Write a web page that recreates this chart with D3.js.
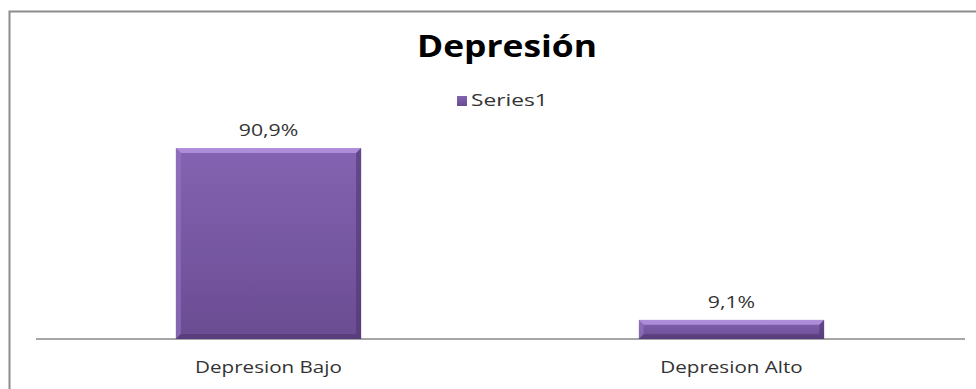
<!DOCTYPE html>
<html><head><meta charset="utf-8">
<script src="https://cdn.jsdelivr.net/npm/d3@7"></script>
<style>html,body{margin:0;padding:0;background:#fff;}svg{display:block;}</style>
</head><body>
<svg id="chart" width="976" height="389"></svg>
<script>
const title = "Depresión";
const seriesName = "Series1";
const categories = ["Depresion Bajo", "Depresion Alto"];
const values = [90.9, 9.1];
const valueLabels = ["90,9%", "9,1%"];

const svg = d3.select("#chart");
const font = "'Open Sans', 'DejaVu Sans', sans-serif";
const SX = 1.33; // horizontal stretch seen in the reference text

function stretchedText(parent, x, y, txt, opts) {
  const g = parent.append("g").attr("transform", `translate(${x},${y}) scale(${opts.sx || SX},1)`);
  return g.append("text").attr("x", 0).attr("y", 0)
    .attr("text-anchor", opts.anchor || "middle")
    .attr("font-family", font).attr("font-size", opts.size || 15.5)
    .attr("font-weight", opts.weight || "normal")
    .attr("fill", opts.fill || "#333").text(txt);
}

// outer border (left and top visible)
svg.append("path").attr("d", "M9.5,389 L9.5,11.5 L976,11.5")
  .attr("fill", "none").attr("stroke", "#8c8c8c").attr("stroke-width", 2);

const defs = svg.append("defs");
const g1 = defs.append("linearGradient").attr("id", "barGrad").attr("x1", 0).attr("y1", 0).attr("x2", 0).attr("y2", 1);
g1.append("stop").attr("offset", "0%").attr("stop-color", "#8463b2");
g1.append("stop").attr("offset", "100%").attr("stop-color", "#6a4c92");

const x = d3.scaleBand().domain(categories).range([37, 963]).paddingInner(0.6).paddingOuter(0.3);
const y = d3.scaleLinear().domain([0, 100]).range([339, 129]);

// axis
const xAxis = d3.axisBottom(x).tickSize(0).tickFormat("");
const ax = svg.append("g").attr("transform", "translate(0,339)").call(xAxis);
ax.select(".domain").attr("stroke", "#a6a6a6").attr("stroke-width", 2).attr("d", "M36,0H965");
categories.forEach(c => {
  stretchedText(svg, x(c) + x.bandwidth() / 2, 373, c, {size: 15.5});
});

// bars
const bars = svg.append("g").selectAll("g").data(values).join("g");
bars.each(function(d, i) {
  const gg = d3.select(this);
  const bx = x(categories[i]), bw = x.bandwidth();
  const by = y(d), bh = y(0) - y(d);
  const b = Math.min(5, bh / 4);
  gg.append("rect").attr("x", bx).attr("y", by).attr("width", bw).attr("height", bh).attr("fill", "url(#barGrad)");
  gg.append("path").attr("d", `M${bx},${by}L${bx+bw},${by}L${bx+bw-b},${by+b}L${bx+b},${by+b}Z`).attr("fill", "#b595e0").attr("opacity", 0.85);
  gg.append("path").attr("d", `M${bx},${by}L${bx+b},${by+b}L${bx+b},${by+bh-b}L${bx},${by+bh}Z`).attr("fill", "#9677c4").attr("opacity", 0.6);
  gg.append("path").attr("d", `M${bx+bw},${by}L${bx+bw},${by+bh}L${bx+bw-b},${by+bh-b}L${bx+bw-b},${by+b}Z`).attr("fill", "#4e356f").attr("opacity", 0.6);
  gg.append("path").attr("d", `M${bx},${by+bh}L${bx+bw},${by+bh}L${bx+bw-b},${by+bh-b}L${bx+b},${by+bh-b}Z`).attr("fill", "#4a3269").attr("opacity", 0.55);
  stretchedText(svg, bx + bw / 2, by - 12, valueLabels[i], {size: 16});
});

// title
stretchedText(svg, 507, 57, title, {size: 30, weight: "bold", fill: "#000", sx: 1.18});

// legend
svg.append("rect").attr("x", 457).attr("y", 96).attr("width", 10).attr("height", 10).attr("fill", "url(#barGrad)");
stretchedText(svg, 471, 106, seriesName, {size: 16, anchor: "start", sx: 1.42});
</script>
</body></html>
